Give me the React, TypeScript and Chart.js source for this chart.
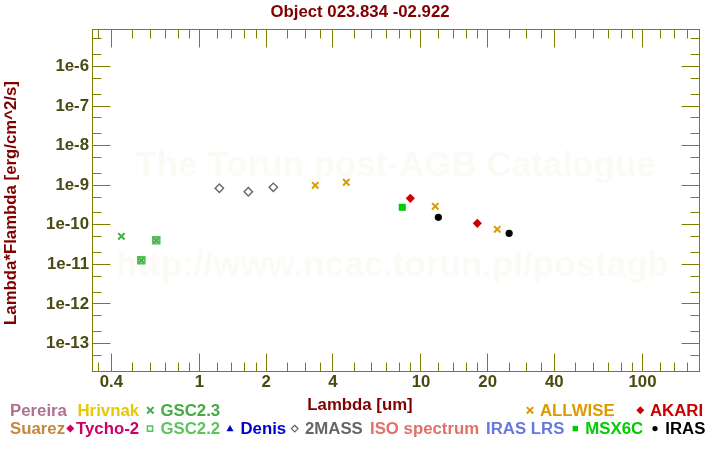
import React, { useEffect, useRef } from 'react';
import { Chart, registerables } from 'chart.js';

Chart.register(...registerables);

// ---------- text ----------
const TITLE = 'Object 023.834 -02.922';
const X_TITLE = 'Lambda [um]';
const Y_TITLE = 'Lambda*Flambda [erg/cm^2/s]';
const WATERMARK_1 = 'The Torun post-AGB Catalogue';
const WATERMARK_2 = 'http://www.ncac.torun.pl/postagb';

// ---------- axes ----------
const X_MIN = 0.327;
const X_MAX = 180;
const Y_MIN = 2.02e-14;
const Y_MAX = 8.87e-6;
const X_TICKS = [0.4, 1, 2, 4, 10, 20, 40, 100];
const X_MINOR = [0.35, 0.5, 0.6, 0.7, 0.8, 0.9, 1.2, 1.4, 1.6, 1.8, 2.5, 3, 3.5, 5, 6, 7, 8, 9, 12, 14, 16, 18, 25, 30, 35, 50, 60, 70, 80, 90, 120, 140, 160];
const Y_TICKS = [1e-13, 1e-12, 1e-11, 1e-10, 1e-9, 1e-8, 1e-7, 1e-6];
const Y_MINOR = [5e-14, 2e-13, 5e-13, 2e-12, 5e-12, 2e-11, 5e-11, 2e-10, 5e-10, 2e-9, 5e-9, 2e-8, 5e-8, 2e-7, 5e-7, 2e-6, 5e-6];

// ---------- data ----------
const GSC23_X = [0.444, 0.546, 0.638];
const GSC23_Y = [5.12e-11, 1.265e-11, 4.06e-11];
const GSC22_X = [0.546, 0.638];
const GSC22_Y = [1.265e-11, 4.06e-11];
const TWOMASS_X = [1.229, 1.661, 2.154];
const TWOMASS_Y = [8.36e-10, 6.85e-10, 8.85e-10];
const ALLWISE_X = [3.33, 4.6, 11.6, 22.1];
const ALLWISE_Y = [9.95e-10, 1.19e-9, 2.93e-10, 7.69e-11];
const MSX_X = [8.23];
const MSX_Y = [2.77e-10];
const AKARI_X = [8.95, 17.96];
const AKARI_Y = [4.67e-10, 1.09e-10];
const IRAS_X = [11.98, 25.0];
const IRAS_Y = [1.545e-10, 6.09e-11];

const LEGEND_ROW1 = ['Pereira', 'Hrivnak', 'GSC2.3', 'ALLWISE', 'AKARI'];
const LEGEND_ROW2 = ['Suarez', 'Tycho-2', 'GSC2.2', 'Denis', '2MASS', 'ISO spectrum', 'IRAS LRS', 'MSX6C', 'IRAS'];

// ---------- style ----------
const FONT = '"Liberation Sans", Arial, Helvetica, sans-serif';
const FS = 16.8;
const AXIS_COLOR = '#808000';
const TICK_COLOR = '#4a4a12';
const TITLE_COLOR = '#800000';
const WM_COLOR = '#fbfaf5';

const zip = (xs: number[], ys: number[]) => xs.map((x, i) => ({ x, y: ys[i] }));

type Marker = 'cross' | 'diamond' | 'odiamond' | 'osquare' | 'square' | 'triangle' | 'circle' | null;

const LEGEND_STYLE: Record<string, { color: string; x: number; marker: Marker; mx?: number }> = {
  'Pereira': { color: '#b0708e', x: 10, marker: null },
  'Hrivnak': { color: '#e8c800', x: 77.5, marker: null },
  'GSC2.3': { color: '#44aa44', x: 160.5, marker: 'cross', mx: 150.3 },
  'ALLWISE': { color: '#dd9900', x: 540, marker: 'cross', mx: 530 },
  'AKARI': { color: '#cc0000', x: 650, marker: 'diamond', mx: 640.3 },
  'Suarez': { color: '#c4883c', x: 10, marker: null },
  'Tycho-2': { color: '#cc0066', x: 76, marker: 'diamond', mx: 70.3 },
  'GSC2.2': { color: '#5ec45e', x: 160.5, marker: 'osquare', mx: 150 },
  'Denis': { color: '#0000cc', x: 240.5, marker: 'triangle', mx: 230 },
  '2MASS': { color: '#666666', x: 305, marker: 'odiamond', mx: 294.7 },
  'ISO spectrum': { color: '#e07068', x: 370, marker: null },
  'IRAS LRS': { color: '#6677dd', x: 486, marker: null },
  'MSX6C': { color: '#00cc00', x: 585.3, marker: 'square', mx: 575.3 },
  'IRAS': { color: '#000000', x: 665.3, marker: 'circle', mx: 655 },
};

function drawMarker(ctx: CanvasRenderingContext2D, m: Marker, x: number, y: number, color: string) {
  ctx.save();
  ctx.strokeStyle = color;
  ctx.fillStyle = color;
  ctx.beginPath();
  switch (m) {
    case 'cross':
      ctx.lineWidth = 2;
      ctx.moveTo(x - 3.2, y - 3.2); ctx.lineTo(x + 3.2, y + 3.2);
      ctx.moveTo(x + 3.2, y - 3.2); ctx.lineTo(x - 3.2, y + 3.2);
      ctx.stroke();
      break;
    case 'diamond':
      ctx.moveTo(x, y - 4); ctx.lineTo(x + 4, y); ctx.lineTo(x, y + 4); ctx.lineTo(x - 4, y); ctx.closePath();
      ctx.fill();
      break;
    case 'odiamond':
      ctx.lineWidth = 1.3;
      ctx.moveTo(x, y - 3.3); ctx.lineTo(x + 3.3, y); ctx.lineTo(x, y + 3.3); ctx.lineTo(x - 3.3, y); ctx.closePath();
      ctx.stroke();
      break;
    case 'osquare':
      ctx.lineWidth = 1.6;
      ctx.strokeRect(x - 2.6, y - 2.6, 5.2, 5.2);
      break;
    case 'square':
      ctx.fillRect(x - 2.7, y - 2.7, 5.4, 5.4);
      break;
    case 'triangle':
      ctx.moveTo(x, y - 3.5); ctx.lineTo(x + 3.5, y + 2.7); ctx.lineTo(x - 3.5, y + 2.7); ctx.closePath();
      ctx.fill();
      break;
    case 'circle':
      ctx.arc(x, y, 2.6, 0, Math.PI * 2);
      ctx.fill();
      break;
  }
  ctx.restore();
}

const framePlugin = {
  id: 'sedFrame',
  beforeDatasetsDraw(chart: any) {
    const { ctx, chartArea: a, scales } = chart;
    ctx.save();
    // watermark
    ctx.fillStyle = WM_COLOR;
    ctx.font = `bold 35px ${FONT}`;
    ctx.textAlign = 'center';
    ctx.textBaseline = 'alphabetic';
    const cx = (a.left + a.right) / 2;
    ctx.fillText(WATERMARK_1, cx, 176);
    ctx.fillText(WATERMARK_2, cx - 3, 276);

    // frame
    ctx.strokeStyle = AXIS_COLOR;
    ctx.lineWidth = 1;
    ctx.strokeRect(a.left + 0.5, a.top + 0.5, a.right - a.left, a.bottom - a.top);

    const line = (x1: number, y1: number, x2: number, y2: number) => {
      ctx.beginPath(); ctx.moveTo(x1, y1); ctx.lineTo(x2, y2); ctx.stroke();
    };
    const xs = scales.x, ys = scales.y;
    const tx = (v: number, len: number) => {
      const p = Math.floor(xs.getPixelForValue(v)) + 0.5;
      line(p, a.bottom + 0.5, p, a.bottom + 0.5 - len);
      line(p, a.top + 0.5, p, a.top + 0.5 + len);
    };
    const ty = (v: number, len: number) => {
      const p = Math.floor(ys.getPixelForValue(v)) + 0.5;
      line(a.left + 0.5, p, a.left + 0.5 + len, p);
      line(a.right + 0.5, p, a.right + 0.5 - len, p);
    };
    X_TICKS.forEach(v => tx(v, 18));
    X_MINOR.forEach(v => tx(v, 9));
    Y_TICKS.forEach(v => ty(v, 18));
    Y_MINOR.forEach(v => ty(v, 9));
    ctx.restore();
  },
  afterDraw(chart: any) {
    const { ctx } = chart;
    ctx.save();
    ctx.font = `bold ${FS}px ${FONT}`;
    ctx.textBaseline = 'alphabetic';
    // title
    ctx.fillStyle = TITLE_COLOR;
    ctx.textAlign = 'center';
    ctx.fillText(TITLE, 360, 16.5);
    ctx.fillText(X_TITLE, 360, 409.5);
    ctx.save();
    ctx.translate(16, 203);
    ctx.rotate(-Math.PI / 2);
    ctx.fillText(Y_TITLE, 0, 0);
    ctx.restore();

    // legend
    ctx.textAlign = 'left';
    const drawRow = (names: string[], baseline: number) => {
      names.forEach(n => {
        const s = LEGEND_STYLE[n];
        ctx.fillStyle = s.color;
        ctx.fillText(n, s.x, baseline);
        if (s.marker && s.mx !== undefined) drawMarker(ctx, s.marker, s.mx, baseline - 5.7, s.color);
      });
    };
    drawRow(LEGEND_ROW1, 416);
    drawRow(LEGEND_ROW2, 434.3);
    ctx.restore();
  },
};

export default function App() {
  const ref = useRef<HTMLCanvasElement>(null);
  useEffect(() => {
    document.body.style.margin = '0';
    const canvas = ref.current;
    if (!canvas) return;
    const tickFont = { family: FONT, size: FS, weight: 'bold' as const };
    const chart = new Chart(canvas, {
      type: 'scatter',
      data: {
        datasets: [
          {
            label: 'GSC2.2', data: zip(GSC22_X, GSC22_Y), pointStyle: 'rect', pointRadius: 4.6,
            backgroundColor: 'rgba(0,0,0,0)', borderColor: '#55bb55', borderWidth: 2,
          },
          {
            label: 'GSC2.3', data: zip(GSC23_X, GSC23_Y), pointStyle: 'crossRot', pointRadius: 4.5,
            backgroundColor: '#44aa44', borderColor: '#44aa44', borderWidth: 2,
          },
          {
            label: '2MASS', data: zip(TWOMASS_X, TWOMASS_Y), pointStyle: 'rectRot', pointRadius: 4.2,
            backgroundColor: 'rgba(255,255,255,0)', borderColor: '#666666', borderWidth: 1.4,
          },
          {
            label: 'ALLWISE', data: zip(ALLWISE_X, ALLWISE_Y), pointStyle: 'crossRot', pointRadius: 4.5,
            backgroundColor: '#dd9900', borderColor: '#dd9900', borderWidth: 2,
          },
          {
            label: 'MSX6C', data: zip(MSX_X, MSX_Y), pointStyle: 'rect', pointRadius: 5,
            backgroundColor: '#00cc00', borderColor: '#00cc00', borderWidth: 0,
          },
          {
            label: 'AKARI', data: zip(AKARI_X, AKARI_Y), pointStyle: 'rectRot', pointRadius: 4.6,
            backgroundColor: '#cc0000', borderColor: '#cc0000', borderWidth: 0,
          },
          {
            label: 'IRAS', data: zip(IRAS_X, IRAS_Y), pointStyle: 'circle', pointRadius: 3.6,
            backgroundColor: '#000000', borderColor: '#000000', borderWidth: 0,
          },
        ],
      },
      options: {
        responsive: false,
        animation: false,
        devicePixelRatio: 1,
        events: [],
        layout: { padding: { top: 29, right: 21, left: 0, bottom: 0 } },
        plugins: {
          legend: { display: false },
          tooltip: { enabled: false },
          title: { display: false },
        },
        scales: {
          x: {
            type: 'logarithmic',
            position: 'bottom',
            bounds: 'data',
            min: X_MIN,
            max: X_MAX,
            grid: { display: false, drawTicks: false },
            border: { display: false },
            ticks: {
              autoSkip: false, maxRotation: 0, minRotation: 0, padding: 1,
              color: TICK_COLOR, font: tickFont,
              callback: (v: any) => String(Number(v)),
            },
            afterBuildTicks: (s: any) => { s.ticks = X_TICKS.map(v => ({ value: v })); },
            afterDataLimits: (s: any) => { s.min = X_MIN; s.max = X_MAX; },
            afterFit: (s: any) => { s.height = 79; },
          },
          y: {
            type: 'logarithmic',
            position: 'left',
            bounds: 'data',
            min: Y_MIN,
            max: Y_MAX,
            grid: { display: false, drawTicks: false },
            border: { display: false },
            ticks: {
              autoSkip: false, padding: 3,
              color: TICK_COLOR, font: tickFont,
              callback: (v: any) => '1e' + Math.round(Math.log10(Number(v))),
            },
            afterBuildTicks: (s: any) => { s.ticks = Y_TICKS.map(v => ({ value: v })); },
            afterDataLimits: (s: any) => { s.min = Y_MIN; s.max = Y_MAX; },
            afterFit: (s: any) => { s.width = 92; },
          },
        },
      } as any,
      plugins: [framePlugin],
    });
    return () => chart.destroy();
  }, []);
  return (
    <canvas
      ref={ref}
      width={720}
      height={450}
      style={{ position: 'absolute', left: 0, top: 0, width: 720, height: 450 }}
    />
  );
}
